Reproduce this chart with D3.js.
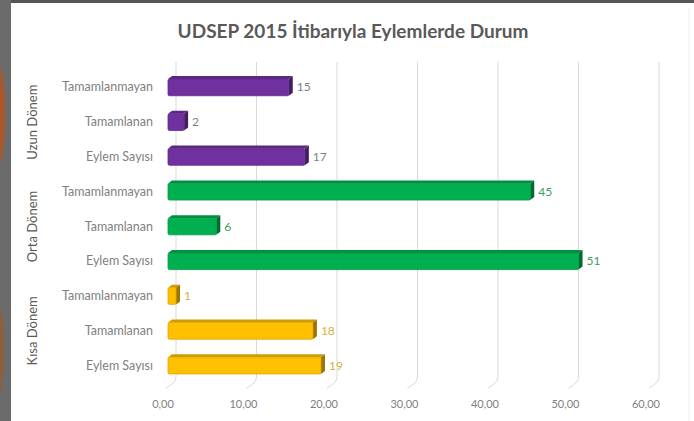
<!DOCTYPE html>
<html>
<head>
<meta charset="utf-8">
<script src="https://cdn.jsdelivr.net/npm/d3@7"></script>
<style>
  body { margin: 0; background: #ffffff; }
  text { font-family: Lato, "Open Sans", sans-serif; }
</style>
</head>
<body>
<script>
// data
var groups = ["Uzun Dönem", "Orta Dönem", "Kısa Dönem"];
var categories = ["Tamamlanmayan", "Tamamlanan", "Eylem Sayısı"];
var uzunValues = [15, 2, 17];
var ortaValues = [45, 6, 51];
var kisaValues = [1, 18, 19];
var tickValues = [0, 10, 20, 30, 40, 50, 60];
var groupColors = ["#7030A0", "#00B050", "#FFC000"];
var labelColors = ["#7f7f7f", "#3f9a63", "#d9b040"];

var width = 694, height = 421;

var svg = d3.select("body").append("svg")
  .attr("width", width)
  .attr("height", height);

// slide frame (left / top dark border)
svg.append("rect").attr("x", 0).attr("y", 0).attr("width", width).attr("height", height).attr("fill", "#ffffff");
svg.append("rect").attr("x", 0).attr("y", 0).attr("width", width).attr("height", 3).attr("fill", "#555");
svg.append("rect").attr("x", 0).attr("y", 0).attr("width", 11).attr("height", height).attr("fill", "#6b6b6b");
svg.append("ellipse").attr("cx", -4).attr("cy", 115).attr("rx", 9).attr("ry", 55).attr("fill", "#b5541c").attr("opacity", 0.85);
svg.append("ellipse").attr("cx", -4).attr("cy", 350).attr("rx", 8).attr("ry", 50).attr("fill", "#9a5a2a").attr("opacity", 0.7);
svg.append("line").attr("x1", 689).attr("x2", 689).attr("y1", 8).attr("y2", height).attr("stroke", "#eee");

// rows
var rows = [];
[uzunValues, ortaValues, kisaValues].forEach(function (vals, g) {
  vals.forEach(function (v, i) {
    rows.push({ key: g + "-" + i, group: g, cat: categories[i], value: v });
  });
});

var x = d3.scaleLinear().domain([0, 60]).range([168, 651]);
var y = d3.scaleBand().domain(rows.map(function (d) { return d.key; }))
  .range([70, 383]).paddingInner(0.52).paddingOuter(0.26);

var depthX = 8, depthY = 9;
var floorY = 386;

// title
svg.append("text")
  .attr("x", 353).attr("y", 38)
  .attr("text-anchor", "middle")
  .attr("font-size", 19).attr("font-weight", "bold")
  .attr("fill", "#595959")
  .text("UDSEP 2015 İtibarıyla Eylemlerde Durum");

// gridlines on back wall, with curved floor link
var grid = svg.append("g");
tickValues.forEach(function (t) {
  var xb = x(t) + depthX;
  grid.append("line")
    .attr("x1", xb).attr("x2", xb)
    .attr("y1", 62).attr("y2", floorY - depthY)
    .attr("stroke", "#d9d9d9").attr("stroke-width", 1);
  grid.append("path")
    .attr("d", "M" + xb + "," + (floorY - depthY) + " Q" + xb + "," + (floorY - 3) + " " + (x(t) - 2) + "," + (floorY + 2))
    .attr("fill", "none").attr("stroke", "#d9d9d9");
});

// x axis tick labels
svg.append("g").selectAll("text")
  .data(tickValues).enter().append("text")
  .attr("x", function (d) { return x(d) - 5; })
  .attr("y", 408)
  .attr("text-anchor", "middle")
  .attr("font-size", 11).attr("fill", "#7f7f7f")
  .text(function (d) { return d3.format(".2f")(d).replace(".", ","); });

// bars (front face + top + right side)
var bars = svg.append("g").selectAll("g").data(rows).enter().append("g");
var bh = y.bandwidth();
var topD = 3, sideD = 4;

bars.append("path")
  .attr("d", function (d) {
    var x0 = x(0), x1 = x(d.value), y0 = y(d.key);
    return "M" + x0 + "," + y0 + " L" + (x0 + sideD) + "," + (y0 - topD) + " L" + (x1 + sideD) + "," + (y0 - topD) + " L" + x1 + "," + y0 + "Z";
  })
  .attr("fill", function (d) { return d3.color(groupColors[d.group]).darker(0.6); });

bars.append("path")
  .attr("d", function (d) {
    var x1 = x(d.value), y0 = y(d.key);
    return "M" + x1 + "," + y0 + " L" + (x1 + sideD) + "," + (y0 - topD) + " L" + (x1 + sideD) + "," + (y0 + bh - topD) + " L" + x1 + "," + (y0 + bh) + "Z";
  })
  .attr("fill", function (d) { return d3.color(groupColors[d.group]).darker(1.4); });

bars.append("rect")
  .attr("x", x(0))
  .attr("y", function (d) { return y(d.key); })
  .attr("width", function (d) { return x(d.value) - x(0); })
  .attr("height", bh)
  .attr("rx", 1.5)
  .attr("fill", function (d) { return groupColors[d.group]; })
  .attr("stroke", function (d) { return d3.color(groupColors[d.group]).darker(0.4); })
  .attr("stroke-width", 0.8);

// value labels
bars.append("text")
  .attr("x", function (d) { return x(d.value) + sideD + 4; })
  .attr("y", function (d) { return y(d.key) + bh / 2 + 4; })
  .attr("font-size", 12).attr("fill", function (d) { return labelColors[d.group]; })
  .text(function (d) { return d.value; });

// category labels
svg.append("g").selectAll("text")
  .data(rows).enter().append("text")
  .attr("x", 153)
  .attr("y", function (d) { return y(d.key) + bh / 2 + 4; })
  .attr("text-anchor", "end")
  .attr("font-size", 12.5).attr("fill", "#7f7f7f")
  .text(function (d) { return d.cat; });

// group labels (rotated)
groups.forEach(function (g, gi) {
  var k0 = gi + "-0", k2 = gi + "-2";
  var cy = (y(k0) + y(k2) + bh) / 2;
  svg.append("text")
    .attr("transform", "translate(37," + cy + ") rotate(-90)")
    .attr("text-anchor", "middle")
    .attr("font-size", 13).attr("fill", "#595959")
    .text(g);
});
</script>
</body>
</html>
